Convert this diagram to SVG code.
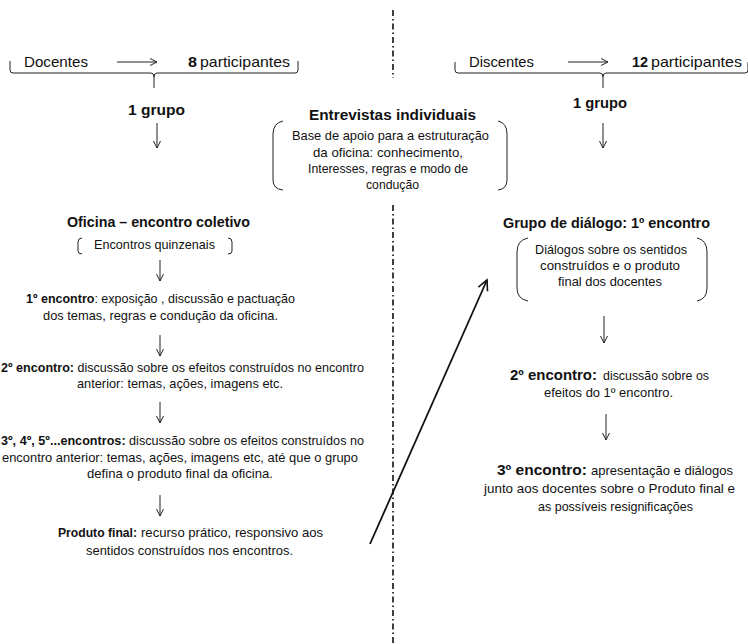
<svg xmlns="http://www.w3.org/2000/svg" width="748" height="644" viewBox="0 0 748 644">
<defs>
<marker id="ah" markerWidth="10" markerHeight="10" refX="8" refY="4" orient="auto" markerUnits="userSpaceOnUse">
<path d="M1,0.5 L8,4 L1,7.5" fill="none" stroke="#222" stroke-width="1"/>
</marker>
<marker id="ahb" markerWidth="14" markerHeight="14" refX="11" refY="6" orient="auto" markerUnits="userSpaceOnUse">
<path d="M1,1 L11,6 L1,11" fill="none" stroke="#111" stroke-width="1.6"/>
</marker>
<style>
text{font-family:"Liberation Sans",Arial,sans-serif;fill:#111}
.r{font-size:13.5px}
.b{font-size:13.5px;font-weight:bold}
.t{font-size:15px;font-weight:bold}
.h{font-size:15px}
.ln{fill:none;stroke:#222;stroke-width:1}
.ar{fill:none;stroke:#222;stroke-width:1;marker-end:url(#ah)}
</style>
</defs>
<g id="divider">
<line x1="393" y1="10" x2="393" y2="78" stroke="#111" stroke-width="1.6" stroke-dasharray="6 3 1.5 3"/>
<line x1="393" y1="205" x2="393" y2="644" stroke="#111" stroke-width="1.6" stroke-dasharray="6 3 1.5 3"/>
</g>
<g id="connectors">
<line class="ar" x1="117" y1="62" x2="157" y2="62"/>
<line class="ar" x1="568" y1="62" x2="608" y2="62"/>
<line class="ar" x1="157" y1="123" x2="157" y2="148"/>
<line class="ar" x1="603" y1="123" x2="603" y2="148"/>
<line class="ar" x1="160" y1="260" x2="160" y2="281"/>
<line class="ar" x1="160" y1="335" x2="160" y2="356"/>
<line class="ar" x1="160" y1="402" x2="160" y2="423"/>
<line class="ar" x1="160" y1="495" x2="160" y2="516"/>
<line class="ar" x1="604" y1="316" x2="604" y2="343"/>
<line class="ar" x1="606" y1="414" x2="606" y2="440"/>
<line x1="370" y1="544" x2="487" y2="280" stroke="#111" stroke-width="1.8" marker-end="url(#ahb)"/>
</g>
<g id="docentes">
<path class="ln" d="M10,61 L10,70 Q10,73 13,73 L151,73 Q154,73 154,77 L154,88 M154,77 Q154,73 157,73 L295,73 Q298,73 298,70 L298,61"/>
<text class="h" x="24" y="67" textLength="64" lengthAdjust="spacingAndGlyphs">Docentes</text>
<text class="t" x="188" y="67" textLength="9" lengthAdjust="spacingAndGlyphs">8</text>
<text class="h" x="200" y="67" textLength="90" lengthAdjust="spacingAndGlyphs">participantes</text>
</g>
<g id="discentes">
<path class="ln" d="M455,62 L455,70 Q455,73 458,73 L600,73 Q603,73 603,77 L603,88 M603,77 Q603,73 606,73 L745,73 Q748,73 748,70 L748,62"/>
<text class="h" x="469" y="67" textLength="65" lengthAdjust="spacingAndGlyphs">Discentes</text>
<text class="t" x="632" y="67" textLength="16" lengthAdjust="spacingAndGlyphs">12</text>
<text class="h" x="651" y="67" textLength="91" lengthAdjust="spacingAndGlyphs">participantes</text>
</g>
<g id="grupo-left">
<text class="t" x="128" y="115" textLength="57" lengthAdjust="spacingAndGlyphs">1 grupo</text>
</g>
<g id="grupo-right">
<text class="t" x="573" y="108" textLength="54" lengthAdjust="spacingAndGlyphs">1 grupo</text>
</g>
<g id="entrevistas">
<text class="t" x="309" y="120" textLength="167" lengthAdjust="spacingAndGlyphs">Entrevistas individuais</text>
<path class="ln" d="M283,121 Q273,123 273,134 L273,180 Q273,189 283,190"/>
<path class="ln" d="M498,121 Q507,123 507,134 L507,180 Q507,189 498,190"/>
<text class="r" x="292" y="140" textLength="197" lengthAdjust="spacingAndGlyphs">Base de apoio para a estruturação</text>
<text class="r" x="313" y="157" textLength="150" lengthAdjust="spacingAndGlyphs">da oficina: conhecimento,</text>
<text class="r" x="308" y="173" textLength="160" lengthAdjust="spacingAndGlyphs">Interesses, regras e modo de</text>
<text class="r" x="366" y="189" textLength="53" lengthAdjust="spacingAndGlyphs">condução</text>
</g>
<g id="oficina">
<text class="t" x="67" y="227" textLength="183" lengthAdjust="spacingAndGlyphs">Oficina – encontro coletivo</text>
<path class="ln" d="M82,238 Q78,238 78,242 L78,251 Q78,254 82,254"/>
<path class="ln" d="M228,238 Q232,238 232,242 L232,251 Q232,254 228,254"/>
<text class="r" x="94" y="249" textLength="121" lengthAdjust="spacingAndGlyphs">Encontros quinzenais</text>
</g>
<g id="enc1">
<text class="r" x="26" y="303" textLength="269" lengthAdjust="spacingAndGlyphs"><tspan font-weight="bold">1º encontro</tspan>: exposição , discussão e pactuação</text>
<text class="r" x="43" y="320" textLength="235" lengthAdjust="spacingAndGlyphs">dos temas, regras e condução da oficina.</text>
</g>
<g id="enc2">
<text class="r" x="1" y="372" textLength="363" lengthAdjust="spacingAndGlyphs"><tspan font-weight="bold">2º encontro:</tspan> discussão sobre os efeitos construídos no encontro</text>
<text class="r" x="77" y="388" textLength="206" lengthAdjust="spacingAndGlyphs">anterior: temas, ações, imagens etc.</text>
</g>
<g id="enc3">
<text class="r" x="1" y="445" textLength="363" lengthAdjust="spacingAndGlyphs"><tspan font-weight="bold">3º, 4º, 5º...encontros:</tspan> discussão sobre os efeitos construídos no</text>
<text class="r" x="2" y="462" textLength="356" lengthAdjust="spacingAndGlyphs">encontro anterior: temas, ações, imagens etc, até que o grupo</text>
<text class="r" x="87" y="478" textLength="186" lengthAdjust="spacingAndGlyphs">defina o produto final da oficina.</text>
</g>
<g id="produto">
<text class="b" x="58" y="537" textLength="79" lengthAdjust="spacingAndGlyphs">Produto final:</text>
<text class="r" x="141" y="537" textLength="182" lengthAdjust="spacingAndGlyphs">recurso  prático, responsivo aos</text>
<text class="r" x="86" y="555" textLength="207" lengthAdjust="spacingAndGlyphs">sentidos construídos nos encontros.</text>
</g>
<g id="dialogo1">
<text class="t" x="503" y="228" textLength="207" lengthAdjust="spacingAndGlyphs">Grupo de diálogo: 1º encontro</text>
<path class="ln" d="M528,238 Q517,240 517,252 L517,288 Q517,299 528,301"/>
<path class="ln" d="M697,238 Q707,240 707,252 L707,288 Q707,299 697,301"/>
<text class="r" x="535" y="254" textLength="152" lengthAdjust="spacingAndGlyphs">Diálogos sobre os sentidos</text>
<text class="r" x="540" y="270" textLength="140" lengthAdjust="spacingAndGlyphs">construídos e o produto</text>
<text class="r" x="558" y="286" textLength="104" lengthAdjust="spacingAndGlyphs">final dos docentes</text>
</g>
<g id="dialogo2">
<text class="t" x="510" y="380" textLength="87" lengthAdjust="spacingAndGlyphs">2º encontro:</text>
<text class="r" x="603" y="380" textLength="106" lengthAdjust="spacingAndGlyphs">discussão sobre os</text>
<text class="r" x="544" y="397" textLength="129" lengthAdjust="spacingAndGlyphs">efeitos do 1º encontro.</text>
</g>
<g id="dialogo3">
<text class="t" x="497" y="475" textLength="90" lengthAdjust="spacingAndGlyphs">3º encontro:</text>
<text class="r" x="591" y="475" textLength="142" lengthAdjust="spacingAndGlyphs">apresentação  e diálogos</text>
<text class="r" x="484" y="493" textLength="251" lengthAdjust="spacingAndGlyphs">junto aos docentes sobre o Produto final e</text>
<text class="r" x="538" y="511" textLength="155" lengthAdjust="spacingAndGlyphs">as  possíveis resignificações</text>
</g>
</svg>
